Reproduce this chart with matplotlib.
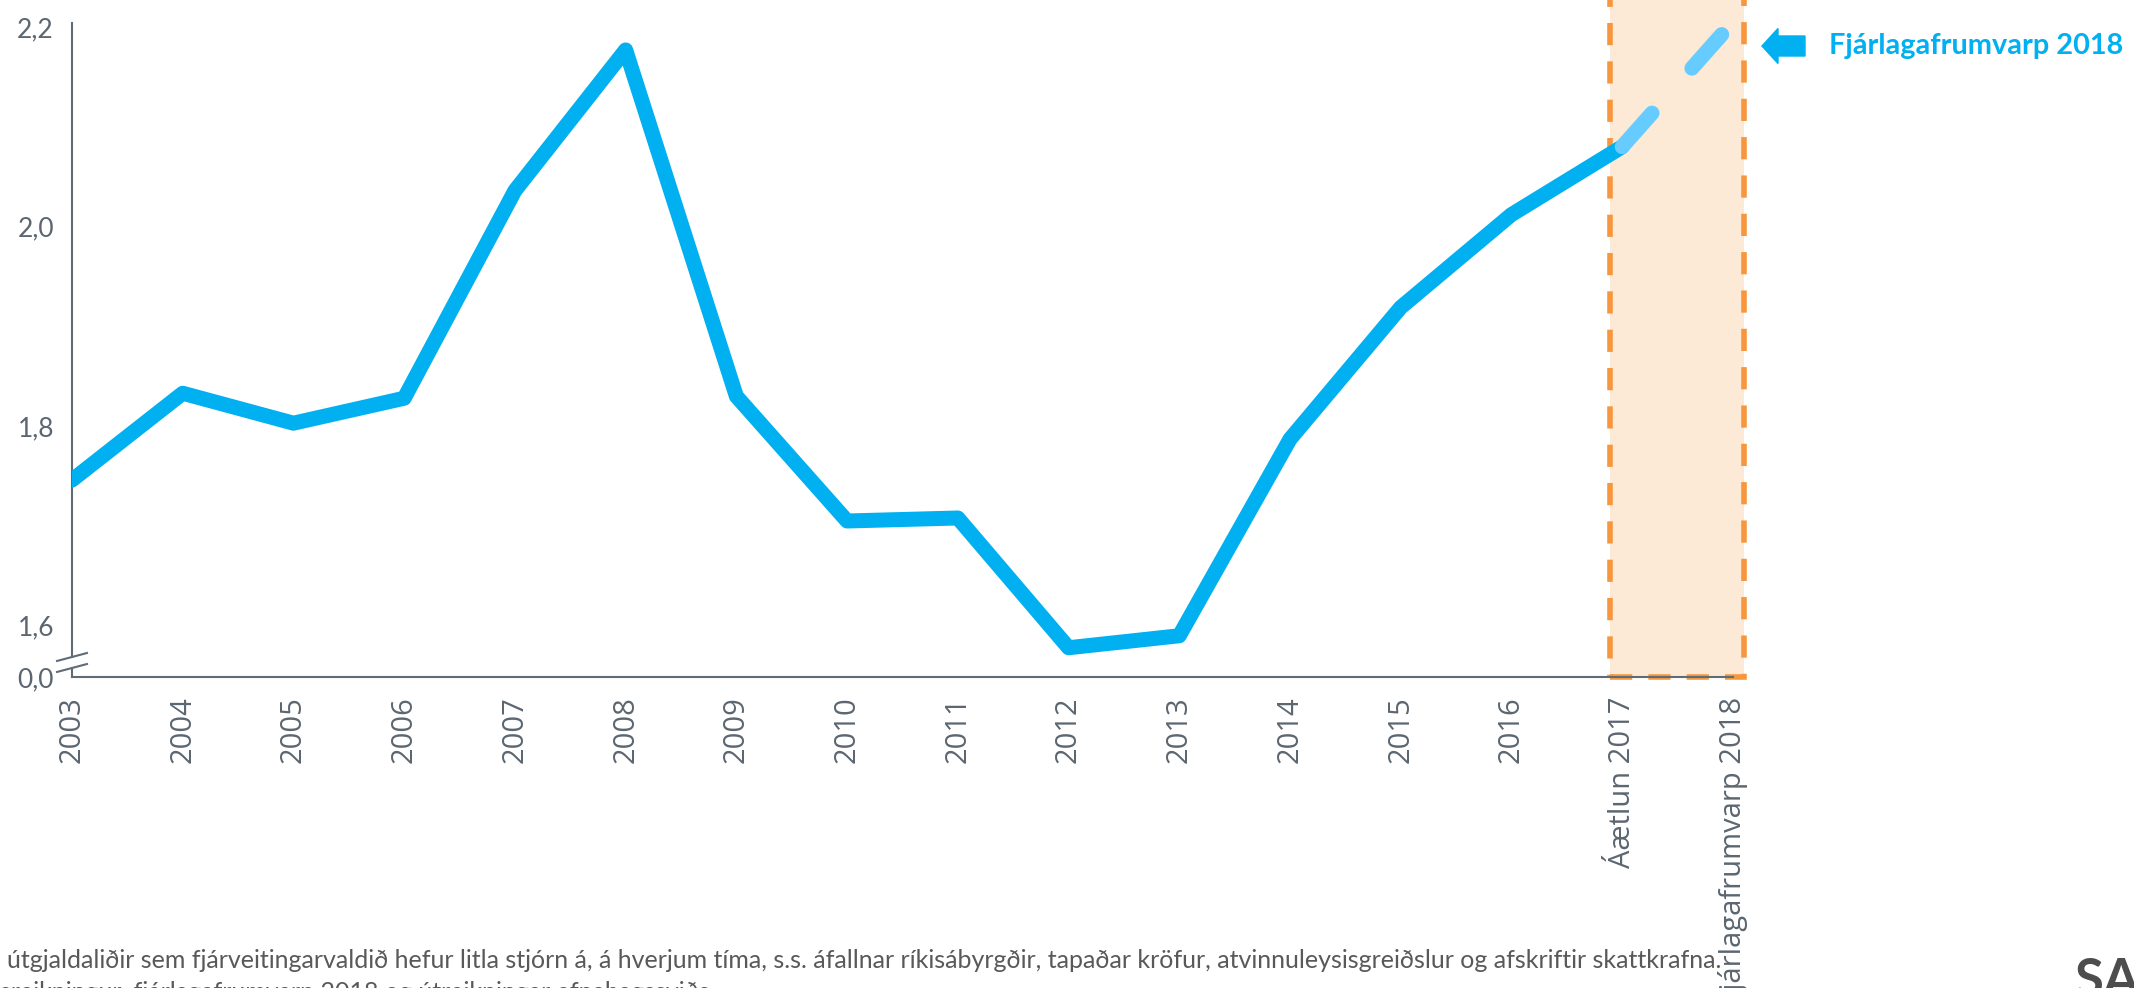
import matplotlib
matplotlib.use("Agg")
import matplotlib.pyplot as plt
import matplotlib.patches as mpatches
from matplotlib.ticker import FixedLocator, FixedFormatter

# gögn
years = [2003, 2004, 2005, 2006, 2007, 2008, 2009, 2010, 2011, 2012, 2013, 2014, 2015, 2016, 2017]
values = [1.746, 1.833, 1.803, 1.828, 2.036, 2.177, 1.830, 1.705, 1.708, 1.578, 1.590, 1.787, 1.919, 2.012, 2.080]
proj_years = [2017, 2018]
proj_values = [2.080, 2.205]

x_ticks = list(range(2003, 2019))
x_labels = [str(y) for y in range(2003, 2017)] + ["Áætlun 2017", "Fjárlagafrumvarp 2018"]

y_bottom = 1.5487  # brotinn ás: neðsta gildi merkt 0,0
y_ticks = [y_bottom, 1.6, 1.8, 2.0, 2.2]
y_labels = ["0,0", "1,6", "1,8", "2,0", "2,2"]

legend_text = "Fjárlagafrumvarp 2018"
footnote1 = ("útgjaldaliðir sem fjárveitingarvaldið hefur litla stjórn á, á hverjum tíma, s.s. áfallnar "
             "ríkisábyrgðir, tapaðar kröfur, atvinnuleysisgreiðslur og afskriftir skattkrafna.")
footnote2 = "sreikningur, fjárlagafrumvarp 2018 og útreikningar efnahagssviðs."

BLUE = "#00B0F0"
LIGHT_BLUE = "#66CCFF"
ORANGE = "#F7963C"
FILL = "#FDEAD6"
GREY = "#5B6670"
AXIS = "#5F6B75"

fig = plt.figure(figsize=(21.34, 9.88), dpi=100)
ax = fig.add_axes([0.03374, 0.3148, 0.7783, 0.6589])

# skyggður reitur fyrir áætlun / frumvarp
rect = mpatches.Rectangle((2016.89, y_bottom), 1.21, 1.0, facecolor=FILL, edgecolor=ORANGE,
                          linewidth=4, linestyle=(0, (4, 2.9)), clip_on=False, zorder=1)
ax.add_patch(rect)

ax.plot(years, values, color=BLUE, lw=10.8, solid_joinstyle="round",
        solid_capstyle="round", zorder=3)
ax.plot(proj_years, proj_values, color=LIGHT_BLUE, lw=10.8, dashes=(3, 4),
        dash_capstyle="round", zorder=4)

ax.set_xlim(2003, 2018)
ax.set_ylim(y_bottom, 2.201)

for s in ["top", "right", "left"]:
    ax.spines[s].set_visible(False)
ax.spines["bottom"].set_color(AXIS)
ax.spines["bottom"].set_linewidth(1.5)
ax.spines["bottom"].set_zorder(2)

# vinstri ás með broti
brk_lo, brk_hi = 0.0138, 0.0307
ax.plot([0, 0], [0, brk_lo], transform=ax.transAxes, color=AXIS, lw=1.5, clip_on=False)
ax.plot([0, 0], [brk_hi, 1.0046], transform=ax.transAxes, color=AXIS, lw=1.5, clip_on=False)
for yb in (brk_lo, brk_hi):
    ax.plot([-0.009, 0.009], [yb - 0.0061, yb + 0.0061], transform=ax.transAxes,
            color=AXIS, lw=1.5, clip_on=False)

ax.xaxis.set_major_locator(FixedLocator(x_ticks))
ax.xaxis.set_major_formatter(FixedFormatter(x_labels))
ax.yaxis.set_major_locator(FixedLocator(y_ticks))
ax.yaxis.set_major_formatter(FixedFormatter(y_labels))
ax.tick_params(axis="x", length=0, pad=14, labelrotation=90, labelcolor=GREY)
ax.tick_params(axis="y", length=0, pad=13, labelcolor=GREY)
for lab in ax.get_xticklabels():
    lab.set_fontfamily("Open Sans")
    lab.set_fontsize(21)
for lab in ax.get_yticklabels():
    lab.set_fontfamily("Lato")
    lab.set_fontsize(19)

# skýring með ör
arrow = mpatches.FancyArrow(1805 / 2134, 942 / 988, -43 / 2134, 0, width=20 / 988,
                            head_width=35 / 988, head_length=16 / 2134,
                            length_includes_head=True, color=BLUE, transform=fig.transFigure)
fig.patches.append(arrow)
fig.text(1829 / 2134, 942 / 988, legend_text, color=BLUE, fontsize=20.8, fontweight="bold",
         family="Lato", ha="left", va="center")

# neðanmálsgrein
fig.text(7 / 2134, 28 / 988, footnote1, color="#595959", fontsize=18, family="Lato",
         ha="left", va="center")
fig.text(0, -4 / 988, footnote2, color="#595959", fontsize=18, family="Lato",
         ha="left", va="center")

# merki
fig.text(2075 / 2134, 31 / 988, "SA", color="#4D4D4D", fontsize=38, fontweight="bold",
         family="Lato", ha="left", va="top")

fig.savefig("out.png", dpi=100)
